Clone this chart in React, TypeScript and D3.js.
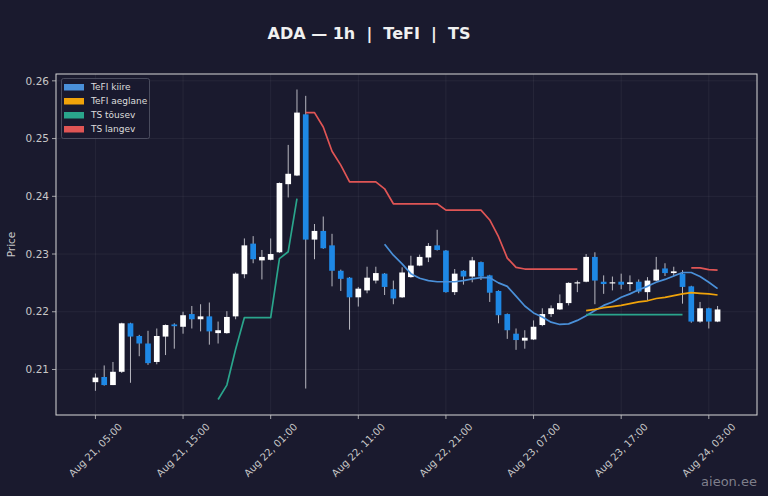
import React from 'react';
import * as d3 from 'd3';

// hourly candles, ADA, starting Aug 21 05:00
const opens = [
  0.2078, 0.2087, 0.2073, 0.2096, 0.2180, 0.2158, 0.2145, 0.2113, 0.2157, 0.2178,
  0.2174, 0.2196, 0.2187, 0.2192, 0.2163, 0.2163, 0.2192, 0.2265, 0.2318, 0.2289,
  0.2290, 0.2303, 0.2421, 0.2436, 0.2542, 0.2325, 0.2340, 0.2315, 0.2271, 0.2259,
  0.2225, 0.2237, 0.2254, 0.2266, 0.2239, 0.2225, 0.2260, 0.2280, 0.2294, 0.2315,
  0.2306, 0.2234, 0.2271, 0.2261, 0.2286, 0.2263, 0.2236, 0.2196, 0.2162, 0.2150,
  0.2152, 0.2177, 0.2196, 0.2204, 0.2215, 0.2249, 0.2252, 0.2295, 0.2252, 0.2249,
  0.2252, 0.2248, 0.2252, 0.2234, 0.2254, 0.2275, 0.2267, 0.2266, 0.2244, 0.2183,
  0.2206, 0.2183,
];
const highs = [
  0.2093, 0.2107, 0.2113, 0.2181, 0.2181, 0.2160, 0.2167, 0.2171, 0.2178, 0.2180,
  0.2200, 0.2210, 0.2213, 0.2216, 0.2183, 0.2201, 0.2268, 0.2327, 0.2331, 0.2307,
  0.2327, 0.2424, 0.2489, 0.2585, 0.2574, 0.2352, 0.2365, 0.2335, 0.2273, 0.2260,
  0.2243, 0.2278, 0.2278, 0.2267, 0.2254, 0.2277, 0.2297, 0.2299, 0.2319, 0.2342,
  0.2307, 0.2274, 0.2272, 0.2295, 0.2287, 0.2264, 0.2237, 0.2197, 0.2171, 0.2168,
  0.2185, 0.2206, 0.2211, 0.2230, 0.2251, 0.2254, 0.2300, 0.2303, 0.2263, 0.2261,
  0.2266, 0.2263, 0.2256, 0.2260, 0.2295, 0.2284, 0.2278, 0.2272, 0.2245, 0.2217,
  0.2207, 0.2210,
];
const lows = [
  0.2063, 0.2072, 0.2073, 0.2094, 0.2077, 0.2123, 0.2108, 0.2109, 0.2125, 0.2136,
  0.2162, 0.2171, 0.2166, 0.2143, 0.2145, 0.2162, 0.2187, 0.2258, 0.2284, 0.2256,
  0.2289, 0.2302, 0.2398, 0.2435, 0.2067, 0.2291, 0.2309, 0.2244, 0.2236, 0.2169,
  0.2209, 0.2232, 0.2249, 0.2229, 0.2213, 0.2224, 0.2259, 0.2279, 0.2286, 0.2306,
  0.2233, 0.2229, 0.2247, 0.2251, 0.2255, 0.2217, 0.2180, 0.2153, 0.2134, 0.2136,
  0.2151, 0.2175, 0.2191, 0.2203, 0.2211, 0.2234, 0.2251, 0.2213, 0.2231, 0.2237,
  0.2239, 0.2236, 0.2232, 0.2220, 0.2253, 0.2262, 0.2262, 0.2214, 0.2181, 0.2181,
  0.2171, 0.2182,
];
const closes = [
  0.2086, 0.2073, 0.2096, 0.2180, 0.2157, 0.2145, 0.2111, 0.2158, 0.2177, 0.2175,
  0.2194, 0.2187, 0.2192, 0.2166, 0.2168, 0.2191, 0.2266, 0.2315, 0.2291, 0.2295,
  0.2300, 0.2423, 0.2439, 0.2545, 0.2325, 0.2340, 0.2310, 0.2271, 0.2257, 0.2225,
  0.2240, 0.2259, 0.2267, 0.2243, 0.2223, 0.2268, 0.2280, 0.2295, 0.2314, 0.2307,
  0.2234, 0.2266, 0.2261, 0.2289, 0.2261, 0.2233, 0.2194, 0.2168, 0.2151, 0.2155,
  0.2174, 0.2196, 0.2206, 0.2215, 0.2250, 0.2251, 0.2295, 0.2254, 0.2248, 0.2251,
  0.2247, 0.2251, 0.2235, 0.2254, 0.2273, 0.2267, 0.2270, 0.2243, 0.2183, 0.2206,
  0.2183, 0.2204,
];

const pad = (n: number): (number | null)[] => Array(n).fill(null);

// TS (supertrend) up / down legs
const tsUp: (number | null)[] = [
  ...pad(14),
  0.2048, 0.2073, 0.2135, 0.2190, 0.2190, 0.2190, 0.2190, 0.2292, 0.2304, 0.2396,
  ...pad(32),
  0.2195, 0.2195, 0.2195, 0.2195, 0.2195, 0.2195, 0.2195, 0.2195, 0.2195, 0.2195,
  0.2195, 0.2195,
  ...pad(4),
];
const tsDown: (number | null)[] = [
  ...pad(24),
  0.2545, 0.2545, 0.2520, 0.2478, 0.2454, 0.2425, 0.2425, 0.2425, 0.2425, 0.2413,
  0.2387, 0.2387, 0.2387, 0.2387, 0.2387, 0.2387, 0.2376, 0.2376, 0.2376, 0.2376,
  0.2376, 0.2359, 0.2330, 0.2293, 0.2277, 0.2274, 0.2274, 0.2274, 0.2274, 0.2274,
  0.2274, 0.2274,
  ...pad(12),
  0.2276, 0.2276, 0.2273, 0.2272,
];
// TeFI fast / slow
const tefiFast: (number | null)[] = [
  ...pad(33),
  0.2317, 0.2298, 0.2283, 0.2266, 0.2258, 0.2254, 0.2252, 0.2252, 0.2252, 0.2254,
  0.2257, 0.2259, 0.2259, 0.2250, 0.2244, 0.2227, 0.2210, 0.2198, 0.2191, 0.2182,
  0.2178, 0.2179, 0.2185, 0.2193, 0.2202, 0.2211, 0.2217, 0.2225, 0.2231, 0.2238,
  0.2244, 0.2251, 0.2256, 0.2262, 0.2268, 0.2268, 0.2261, 0.2251, 0.2240,
];
const tefiSlow: (number | null)[] = [
  ...pad(56),
  0.2202, 0.2204, 0.2207, 0.2209, 0.2211, 0.2214, 0.2217, 0.2219, 0.2223, 0.2225,
  0.2228, 0.2231, 0.2233, 0.2232, 0.2231, 0.2229,
];

const yTickLabels = ['0.21', '0.22', '0.23', '0.24', '0.25', '0.26'];
const xTickLabels = [
  'Aug 21, 05:00', 'Aug 21, 15:00', 'Aug 22, 01:00', 'Aug 22, 11:00',
  'Aug 22, 21:00', 'Aug 23, 07:00', 'Aug 23, 17:00', 'Aug 24, 03:00',
];

const series = [
  { name: 'TeFI kiire', values: tefiFast, color: '#4a90d9' },
  { name: 'TeFI aeglane', values: tefiSlow, color: '#f0a30a' },
  { name: 'TS tõusev', values: tsUp, color: '#2aa58c' },
  { name: 'TS langev', values: tsDown, color: '#e05555' },
];

const W = 768;
const H = 496;
const M = { left: 56, right: 11, top: 74, bottom: 81 };
const BG = '#1a1a2e';
const UP = '#ffffff';
const DOWN = '#1e88e5';
const TXT = '#c8c8c8';
const FONT = 'DejaVu Sans, sans-serif';

const start = new Date(Date.UTC(2025, 7, 21, 5));
const times = opens.map((_, i) => d3.utcHour.offset(start, i));
const parseTick = d3.utcParse('%Y %b %d, %H:%M');

export default function App() {
  const x = d3
    .scaleTime()
    .domain([d3.utcMinute.offset(times[0], -270), d3.utcMinute.offset(times[times.length - 1], 270)])
    .range([M.left, W - M.right]);

  const allVals = [
    ...highs,
    ...lows,
    ...series.flatMap(s => s.values.filter((v): v is number => v != null)),
  ];
  const [lo, hi] = d3.extent(allVals) as [number, number];
  const span = hi - lo;
  const y = d3
    .scaleLinear()
    .domain([lo - span * 0.05, hi + span * 0.05])
    .range([H - M.bottom, M.top]);

  const step = x(times[1]) - x(times[0]);
  const bw = step * 0.65;

  const line = d3
    .line<number | null>()
    .defined(d => d != null)
    .x((_, i) => x(times[i]))
    .y(d => y(d as number));

  const xTicks = xTickLabels.map(l => ({ label: l, t: parseTick('2025 ' + l) as Date }));

  return (
    <div style={{ position: 'absolute', left: 0, top: 0 }}>
      <svg width={W} height={H} style={{ display: 'block', background: BG }} fontFamily={FONT}>
        <rect x={0} y={0} width={W} height={H} fill={BG} />

        {/* grid */}
        {yTickLabels.map(l => (
          <line key={'gy' + l} x1={M.left} x2={W - M.right} y1={y(+l)} y2={y(+l)}
            stroke="#ffffff" strokeOpacity={0.07} strokeWidth={0.8} />
        ))}
        {xTicks.map(d => (
          <line key={'gx' + d.label} x1={x(d.t)} x2={x(d.t)} y1={M.top} y2={H - M.bottom}
            stroke="#ffffff" strokeOpacity={0.07} strokeWidth={0.8} />
        ))}

        {/* candles */}
        {times.map((t, i) => {
          const up = closes[i] >= opens[i];
          const cx = x(t);
          const top = y(Math.max(opens[i], closes[i]));
          const bot = y(Math.min(opens[i], closes[i]));
          return (
            <g key={i}>
              <line x1={cx} x2={cx} y1={y(highs[i])} y2={y(lows[i])} stroke="#b8b8c0" strokeWidth={1} />
              <rect x={cx - bw / 2} y={top} width={bw} height={Math.max(bot - top, 1)}
                fill={up ? UP : DOWN} />
            </g>
          );
        })}

        {/* indicator lines */}
        {series.map(s => (
          <path key={s.name} d={line(s.values) || ''} fill="none" stroke={s.color}
            strokeWidth={1.7} strokeLinejoin="round" />
        ))}

        {/* frame */}
        <rect x={M.left} y={M.top} width={W - M.left - M.right} height={H - M.top - M.bottom}
          fill="none" stroke="#d8d8d8" strokeWidth={1} />

        {/* y axis */}
        {yTickLabels.map(l => (
          <g key={'ty' + l} transform={`translate(${M.left},${y(+l)})`}>
            <line x1={-4} x2={0} stroke={TXT} strokeWidth={0.8} />
            <text x={-7} dy="0.35em" textAnchor="end" fontSize={10.5} fill={TXT}>{l}</text>
          </g>
        ))}
        <text transform={`translate(15,${(M.top + H - M.bottom) / 2}) rotate(-90)`}
          textAnchor="middle" fontSize={10.5} fill={TXT}>Price</text>

        {/* x axis: labels rotated 45deg, centred on the tick */}
        {xTicks.map(d => (
          <g key={'tx' + d.label} transform={`translate(${x(d.t)},${H - M.bottom})`}>
            <line y1={0} y2={4} stroke={TXT} strokeWidth={0.8} />
            <text transform="translate(0,35) rotate(-45)" textAnchor="middle" dy="0.35em"
              fontSize={10} fill={TXT}>{d.label}</text>
          </g>
        ))}

        {/* legend */}
        <rect x={61.5} y={78.5} width={88} height={60} fill={BG} fillOpacity={0.85}
          stroke="#55586a" strokeWidth={0.8} rx={2} />
        {series.map((s, i) => (
          <g key={'lg' + s.name} transform={`translate(64,${87 + i * 14})`}>
            <rect x={0} y={-3} width={20} height={6.5} fill={s.color} />
            <text x={27} dy="0.35em" fontSize={9} fill="#dddddd">{s.name}</text>
          </g>
        ))}

        {/* title */}
        <text x={369} y={39} textAnchor="middle" fontSize={16} fontWeight="bold" fill="#f0f0f0"
          style={{ whiteSpace: 'pre' }}>{'ADA — 1h  |  TeFI  |  TS'}</text>

        {/* watermark */}
        <text x={757} y={486} textAnchor="end" fontSize={13} fill="#9a9aa5" fillOpacity={0.8}>aieon.ee</text>
      </svg>
    </div>
  );
}
